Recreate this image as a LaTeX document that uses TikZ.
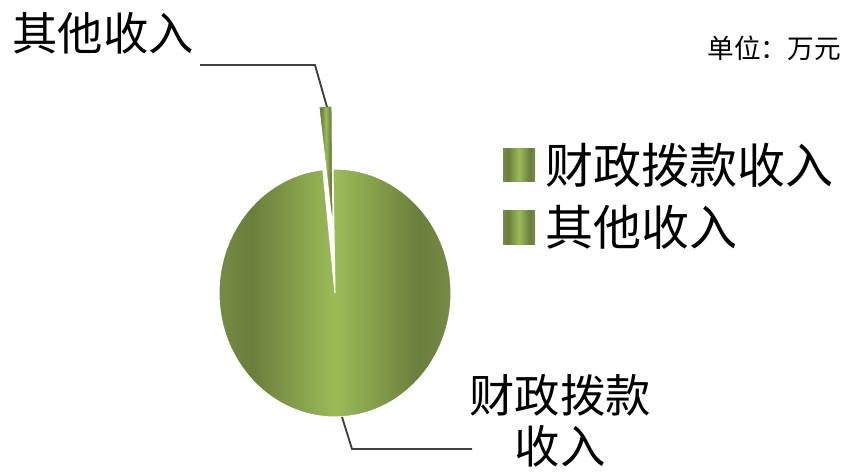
\documentclass[tikz,border=0pt]{standalone}
\usepackage{fontspec}
\usetikzlibrary{positioning}
\newfontfamily\cjk{Noto Sans CJK SC}
\definecolor{pieLight}{HTML}{9BBB59}
\definecolor{pieDark}{HTML}{6B7E3C}
\definecolor{pieEdge}{HTML}{788D47}
\definecolor{leaderGray}{HTML}{404040}
% 水平漸層:兩側深、中間亮
\pgfdeclarehorizontalshading{pieshade}{100bp}{color(0bp)=(pieEdge); color(25bp)=(pieEdge); color(33bp)=(pieDark); color(50bp)=(pieLight); color(67bp)=(pieDark); color(75bp)=(pieEdge); color(100bp)=(pieEdge)}
\begin{document}
\begin{tikzpicture}[
        % 全局設定:以像素為單位
        x=0.75pt, y=0.75pt,
        % 扇形樣式:漸層填充、白色邊線
        wedge/.style={
            shade,
            shading=pieshade,
            draw=white,
            line width=0.8pt
        },
        % 圖例色塊
        legendbox/.style={
            shade,
            shading=pieshade,
            minimum width=24pt,
            minimum height=25pt,
            inner sep=0pt
        },
        % 引導線樣式
        leader/.style={
            draw=leaderGray,
            line width=1.4pt
        },
        % 文字樣式
        bigtext/.style={
            font=\cjk\fontsize{34}{38}\selectfont,
            inner sep=0pt
        },
        legendtext/.style={
            font=\cjk\fontsize{36}{40}\selectfont,
            inner sep=0pt
        },
        unittext/.style={
            font=\cjk\fontsize{20}{24}\selectfont,
            inner sep=0pt
        }
    ]
    \useasboundingbox (0,0) rectangle (847,-472);

    % --- 圓餅圖 ---
    \coordinate (c) at (335,-293);   % 主扇形圓心
    \coordinate (s) at (333,-230);   % 分離扇形頂點
    \path[wedge] (c) -- ++(96:116 and 124)
        arc[start angle=96, end angle=451, x radius=116, y radius=124] -- cycle;
    \path[wedge] (s) -- ++(90.5:116 and 124)
        arc[start angle=90.5, end angle=97, x radius=116, y radius=124] -- cycle;

    % --- 標籤與引導線 ---
    \node[bigtext] (lblother) at (103,-33) {其他收入};
    \node[bigtext, align=center] (lblgrant) at (560,-421) {财政拨款\\收入};
    \coordinate (otherstart) at (200,-65);
    \coordinate (otherknee) at (315,-65);
    \coordinate (othertip) at (327,-107);
    \draw[leader] (otherstart) -- (otherknee) -- (othertip);
    \coordinate (granttip) at (342,-417);
    \coordinate (grantknee) at (352,-449);
    \coordinate (grantend) at (472,-449);
    \draw[leader] (granttip) -- (grantknee) -- (grantend);

    % --- 圖例 ---
    \node[legendbox] (keygrant) at (519,-165) {};
    \node[legendtext, right=7.5pt of keygrant] (txtgrant) {财政拨款收入};
    \node[legendbox] (keyother) at (519,-227.5) {};
    \node[legendtext, right=7.5pt of keyother] (txtother) {其他收入};

    % --- 單位 ---
    \node[unittext] (unit) at (774,-48) {单位：万元};
\end{tikzpicture}
\end{document}
